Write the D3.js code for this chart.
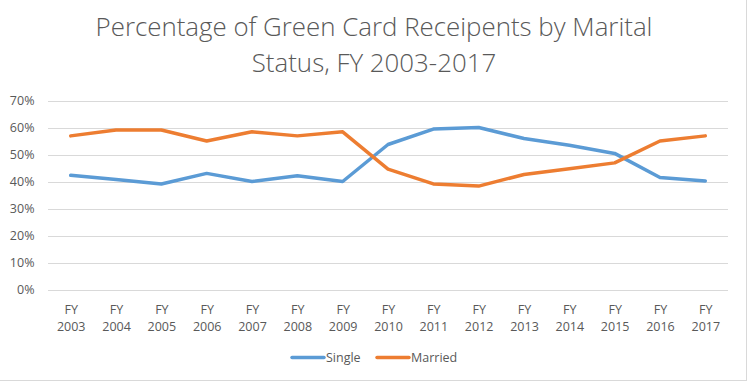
<!DOCTYPE html>
<html>
<head>
<meta charset="utf-8">
<script src="https://cdn.jsdelivr.net/npm/d3@7"></script>
<style>
  html, body { margin: 0; padding: 0; background: #fff; }
  svg { display: block; }
  text { font-family: "Open Sans", "Liberation Sans", sans-serif; fill: #595959; }
</style>
</head>
<body>
<svg id="chart" width="749" height="382"></svg>
<script>
const titleLines = ["Percentage of Green Card Receipents by Marital", "Status, FY 2003-2017"];
const years = ["2003","2004","2005","2006","2007","2008","2009","2010","2011","2012","2013","2014","2015","2016","2017"];
const single = [42.3, 40.7, 39.1, 43.0, 40.0, 42.1, 40.0, 53.7, 59.4, 60.0, 55.9, 53.4, 50.4, 41.5, 40.2];
const married = [56.9, 59.1, 59.1, 55.0, 58.4, 56.9, 58.4, 44.6, 39.1, 38.3, 42.6, 44.7, 46.9, 55.0, 56.9];
const yTicks = [0, 10, 20, 30, 40, 50, 60, 70];
const seriesNames = ["Single", "Married"];
const colors = ["#5B9BD5", "#ED7D31"];

const svg = d3.select("#chart");

// chart border
svg.append("rect")
  .attr("x", -1).attr("y", -1)
  .attr("width", 747.5).attr("height", 381.5)
  .attr("fill", "none").attr("stroke", "#d9d9d9").attr("stroke-width", 1);

// title
const title = svg.append("text")
  .attr("text-anchor", "middle")
  .style("font-weight", 300)
  .style("font-size", "24px");
title.selectAll("tspan").data(titleLines).join("tspan")
  .attr("x", 374)
  .attr("y", (d, i) => 36 + i * 36)
  .text(d => d);
// fit first line width to reference (~557px)
const w0 = title.select("tspan").node().getComputedTextLength();
title.style("font-size", (24 * 557 / w0).toFixed(2) + "px");

const x = d3.scalePoint().domain(years).range([70.7, 705.3]);
const y = d3.scaleLinear().domain([0, 70]).range([289.5, 100.5]);

// gridlines
svg.append("g").selectAll("line").data(yTicks).join("line")
  .attr("x1", 48).attr("x2", 728)
  .attr("y1", d => Math.round(y(d)) + 0.5).attr("y2", d => Math.round(y(d)) + 0.5)
  .attr("stroke", "#d9d9d9").attr("stroke-width", 1);

// y axis labels
const yAxis = d3.axisLeft(y).tickValues(yTicks).tickFormat(d => d + "%").tickSize(0).tickPadding(0);
const yg = svg.append("g").attr("transform", "translate(34.5,0)").call(yAxis);
yg.select(".domain").remove();
yg.selectAll("text").style("font-size", "12.5px").style("fill", "#595959")
  .style("font-family", '"Open Sans", sans-serif');

// x axis labels (two lines)
const xAxis = d3.axisBottom(x).tickSize(0).tickFormat("");
const xg = svg.append("g").attr("transform", "translate(0,289.5)").call(xAxis);
xg.select(".domain").remove();
xg.selectAll(".tick").each(function(d) {
  const t = d3.select(this).append("text")
    .attr("text-anchor", "middle")
    .style("font-size", "12.5px")
    .style("fill", "#595959")
    .style("font-family", '"Open Sans", sans-serif');
  t.append("tspan").attr("x", 0).attr("y", 24).text("FY");
  t.append("tspan").attr("x", 0).attr("y", 41).text(d);
});

// lines
const line = d3.line().x((d, i) => x(years[i])).y(d => y(d));
[single, married].forEach((s, k) => {
  svg.append("path").datum(s)
    .attr("d", line)
    .attr("fill", "none")
    .attr("stroke", colors[k])
    .attr("stroke-width", 3.5)
    .attr("stroke-linejoin", "round")
    .attr("stroke-linecap", "round");
});

// legend
const legendItems = [{name: seriesNames[0], x: 292, color: colors[0]}, {name: seriesNames[1], x: 377, color: colors[1]}];
const lg = svg.append("g").attr("transform", "translate(0,357.5)");
legendItems.forEach(it => {
  lg.append("line").attr("x1", it.x).attr("x2", it.x + 32).attr("y1", 0).attr("y2", 0)
    .attr("stroke", it.color).attr("stroke-width", 3.5).attr("stroke-linecap", "round");
  lg.append("text").attr("x", it.x + 34).attr("y", 4.5)
    .style("font-size", "12.5px").text(it.name);
});
</script>
</body>
</html>
